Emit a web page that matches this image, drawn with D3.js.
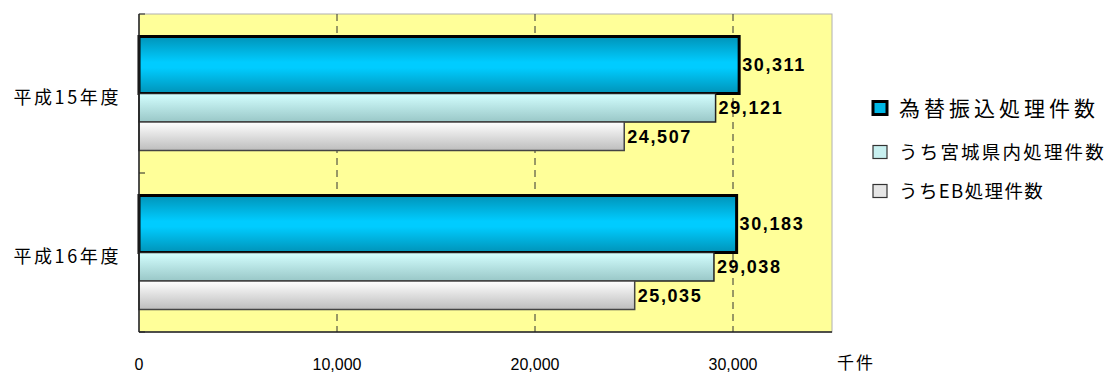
<!DOCTYPE html>
<html>
<head>
<meta charset="utf-8">
<script src="https://cdn.jsdelivr.net/npm/d3@7"></script>
<style>
  body { margin: 0; background: #fff; }
  svg { display: block; }
</style>
</head>
<body>
<svg id="chart" width="1112" height="373"></svg>
<script>
// data
const categories = ['平成15年度', '平成16年度'];
const seriesNames = ['為替振込処理件数', 'うち宮城県内処理件数', 'うちEB処理件数'];
const transferCounts = [30311, 30183];
const miyagiCounts = [29121, 29038];
const ebCounts = [24507, 25035];
const xTicks = [0, 10000, 20000, 30000];
const unitLabel = '千件';

const series = [transferCounts, miyagiCounts, ebCounts];
const barUnits = [2, 1, 1]; // first bar is drawn twice as thick

const plot = { left: 139, right: 832, top: 14, bottom: 332 };
const svg = d3.select('#chart');
const jp = '"Noto Sans CJK JP", "Noto Sans", sans-serif';

const x = d3.scaleLinear().domain([0, 35000]).range([plot.left, plot.right]);
const y = d3.scaleBand().domain(categories).range([plot.top, plot.bottom]);

// gradients
const defs = svg.append('defs');
const grad = (id, stops) => {
  const g = defs.append('linearGradient').attr('id', id)
    .attr('x1', 0).attr('y1', 0).attr('x2', 0).attr('y2', 1);
  stops.forEach(([o, c]) => g.append('stop').attr('offset', o).attr('stop-color', c));
};
grad('gBlue', [[0, '#0093b8'], [0.45, '#00ccff'], [0.55, '#00ccff'], [1, '#0093b8']]);
grad('gCyan', [[0, '#d4ffff'], [1, '#99c7c7']]);
grad('gGray', [[0, '#ffffff'], [1, '#bdbdbd']]);
const fills = ['url(#gBlue)', 'url(#gCyan)', 'url(#gGray)'];
const strokes = ['#000', '#222', '#444'];
const strokeW = [3, 1.5, 1.5];
const legendFills = ['#00b8e6', '#c8f0f0', '#e6e6e6'];

// plot background
svg.append('rect')
  .attr('x', plot.left).attr('y', plot.top)
  .attr('width', plot.right - plot.left).attr('height', plot.bottom - plot.top)
  .attr('fill', '#ffff99').attr('stroke', '#b0b0b0').attr('stroke-width', 1);

// dashed gridlines
svg.append('g').selectAll('line')
  .data(xTicks.filter(d => d > 0))
  .join('line')
  .attr('x1', d => x(d)).attr('x2', d => x(d))
  .attr('y1', plot.top).attr('y2', plot.bottom)
  .attr('stroke', '#333').attr('stroke-width', 1)
  .attr('stroke-dasharray', '7,5');

// bars
const unit = 28.5;
const totalUnits = d3.sum(barUnits);
const pad = (y.bandwidth() - unit * totalUnits) / 2;
const bars = [];
categories.forEach((c, i) => {
  let offset = y(c) + pad;
  series.forEach((s, k) => {
    bars.push({ cat: c, k, v: s[i], y0: offset, h: barUnits[k] * unit });
    offset += barUnits[k] * unit;
  });
});

svg.append('g').selectAll('rect')
  .data(bars)
  .join('rect')
  .attr('x', x(0)).attr('y', d => d.y0)
  .attr('width', d => x(d.v) - x(0)).attr('height', d => d.h)
  .attr('fill', d => fills[d.k])
  .attr('stroke', d => strokes[d.k])
  .attr('stroke-width', d => strokeW[d.k]);

svg.append('g').selectAll('text')
  .data(bars)
  .join('text')
  .attr('x', d => x(d.v) + 3)
  .attr('y', d => d.y0 + d.h / 2)
  .attr('dy', '0.36em')
  .attr('font-family', '"Liberation Sans", Arial, sans-serif')
  .attr('font-weight', 'bold')
  .attr('font-size', 18)
  .attr('letter-spacing', 1.6)
  .attr('fill', '#000')
  .text(d => d3.format(',')(d.v));

// axes lines
svg.append('line')
  .attr('x1', plot.left).attr('x2', plot.left)
  .attr('y1', plot.top).attr('y2', plot.bottom)
  .attr('stroke', '#222').attr('stroke-width', 1.5);
svg.append('line')
  .attr('x1', plot.left).attr('x2', plot.right)
  .attr('y1', plot.bottom).attr('y2', plot.bottom)
  .attr('stroke', '#222').attr('stroke-width', 1.5);

// category ticks (inward)
svg.append('g').selectAll('line')
  .data([plot.top, ...categories.map(c => y(c) + y.bandwidth())])
  .join('line')
  .attr('x1', plot.left).attr('x2', plot.left + 6)
  .attr('y1', d => d).attr('y2', d => d)
  .attr('stroke', '#222').attr('stroke-width', 1);

// category labels
svg.append('g').selectAll('text')
  .data(categories)
  .join('text')
  .attr('x', 121)
  .attr('y', c => y(c) + y.bandwidth() / 2 + 4)
  .attr('dy', '0.36em')
  .attr('text-anchor', 'end')
  .attr('font-family', jp)
  .attr('font-size', 18)
  .attr('letter-spacing', 2.6)
  .attr('fill', '#000')
  .text(c => c);

// x tick labels
svg.append('g').selectAll('text')
  .data(xTicks)
  .join('text')
  .attr('x', d => x(d))
  .attr('y', 370)
  .attr('text-anchor', 'middle')
  .attr('font-family', '"Liberation Sans", Arial, sans-serif')
  .attr('font-size', 16)
  .attr('fill', '#000')
  .text(d => d3.format(',')(d));

svg.append('text')
  .attr('x', 856).attr('y', 369)
  .attr('text-anchor', 'middle')
  .attr('font-family', jp)
  .attr('font-size', 17)
  .attr('letter-spacing', 2)
  .attr('fill', '#000')
  .text(unitLabel);

// legend
const legendY = [108, 152, 191];
const legendFont = [21, 18.5, 18.5];
const legendSpacing = [4, 2.2, 1.4];
const legend = svg.append('g').selectAll('g')
  .data(seriesNames)
  .join('g')
  .attr('transform', (d, i) => `translate(873,${legendY[i]})`);
legend.append('rect')
  .attr('x', 0).attr('y', -6.5)
  .attr('width', 14).attr('height', 13)
  .attr('fill', (d, i) => legendFills[i])
  .attr('stroke', (d, i) => i === 0 ? '#000' : '#333')
  .attr('stroke-width', (d, i) => i === 0 ? 3 : 1.2);
legend.append('text')
  .attr('x', 26).attr('y', 0)
  .attr('dy', '0.36em')
  .attr('font-family', jp)
  .attr('font-size', (d, i) => legendFont[i])
  .attr('letter-spacing', (d, i) => legendSpacing[i])
  .attr('fill', '#000')
  .text(d => d);
</script>
</body>
</html>
